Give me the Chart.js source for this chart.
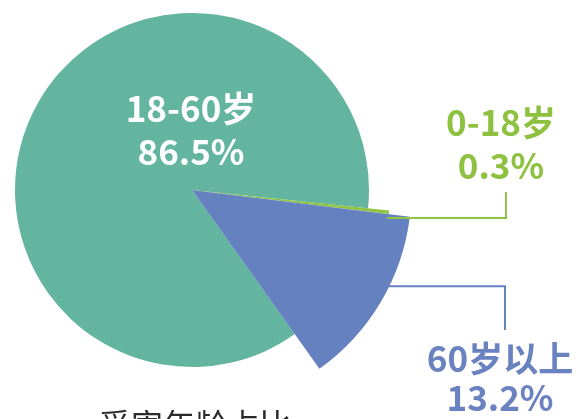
<!DOCTYPE html>
<html>
<head>
<meta charset="utf-8">
<script src="https://cdn.jsdelivr.net/npm/chart.js@4.4.1/dist/chart.umd.min.js"></script>
<style>
  html, body { margin: 0; padding: 0; background: #fff; }
  #wrap { width: 579px; height: 419px; }
</style>
</head>
<body>
<div id="wrap"><canvas id="ageChart" width="579" height="419"></canvas></div>
<script>
// age groups and their share of victims (%)
const categories = ['18-60岁', '0-18岁', '60岁以上'];
const shares = [86.5, 0.3, 13.2];
const chartTitle = '受害年龄占比';

const sliceColors = ['#64b5a0', '#8ec43f', '#6581bf'];
const textColors = ['#ffffff', '#8dc13f', '#6a82bf'];

const FONT = "'Noto Sans CJK SC', 'Noto Sans', sans-serif";

// stretch individual slices past the base radius
const sliceRadius = {
    id: 'sliceRadius',
    afterDatasetUpdate(chart, args, opts) {
        args.meta.data.forEach((arc, i) => {
            arc.outerRadius = arc.outerRadius * (opts.scale[i] || 1);
        });
    }
};

// value labels, elbow connectors and the caption under the pie
const sliceLabels = {
    id: 'sliceLabels',
    afterDatasetsDraw(chart, args, opts) {
        const ctx = chart.ctx;
        const arcs = chart.getDatasetMeta(0).data;
        const lines = i => [categories[i], shares[i].toFixed(1) + '%'];

        ctx.save();
        ctx.textAlign = 'center';
        ctx.textBaseline = 'middle';
        ctx.font = 'bold 35px ' + FONT;

        // big slice: label inside, above the centre
        const main = arcs[0];
        ctx.fillStyle = textColors[0];
        lines(0).forEach((t, k) => ctx.fillText(t, main.x - 1, main.y - 81 + k * 43));

        // small slices: elbow line out to the right, label above/below it
        opts.callouts.forEach(c => {
            const arc = arcs[c.index];
            const a = arc.startAngle + (arc.endAngle - arc.startAngle) * c.at;
            const sx = arc.x + arc.outerRadius * Math.cos(a);
            const sy = arc.y + arc.outerRadius * Math.sin(a) + (c.dy || 0);

            ctx.strokeStyle = sliceColors[c.index];
            ctx.lineWidth = 2;
            ctx.beginPath();
            ctx.moveTo(sx - 2, sy);
            ctx.lineTo(c.lineX, sy);
            ctx.lineTo(c.lineX, c.lineEnd);
            ctx.stroke();

            ctx.fillStyle = textColors[c.index];
            lines(c.index).forEach((t, k) => ctx.fillText(t, c.textX, c.textY + k * c.gap));
        });

        // caption, runs off the bottom edge
        ctx.fillStyle = '#2a2a2a';
        ctx.font = '32px ' + FONT;
        ctx.textBaseline = 'top';
        ctx.fillText(chartTitle, main.x + 3, 409);
        ctx.restore();
    }
};

new Chart(document.getElementById('ageChart'), {
    type: 'pie',
    data: {
        labels: categories,
        datasets: [{
            data: shares,
            backgroundColor: sliceColors,
            borderWidth: 0,
            hoverOffset: 0
        }]
    },
    options: {
        responsive: false,
        animation: false,
        devicePixelRatio: 1,
        rotation: 144.5,
        layout: { padding: { left: 15, right: 210, top: 13, bottom: 52 } },
        events: [],
        plugins: {
            legend: { display: false },
            tooltip: { enabled: false },
            title: { display: false },
            sliceRadius: { scale: [1, 1.12, 1.24] },
            sliceLabels: {
                callouts: [
                    { index: 1, at: 1.0, dy: 4, lineX: 506, lineEnd: 192, textX: 501, textY: 123, gap: 43 },
                    { index: 2, at: 0.4, lineX: 505, lineEnd: 330, textX: 500, textY: 359, gap: 39 }
                ]
            }
        }
    },
    plugins: [sliceRadius, sliceLabels]
});
</script>
</body>
</html>
